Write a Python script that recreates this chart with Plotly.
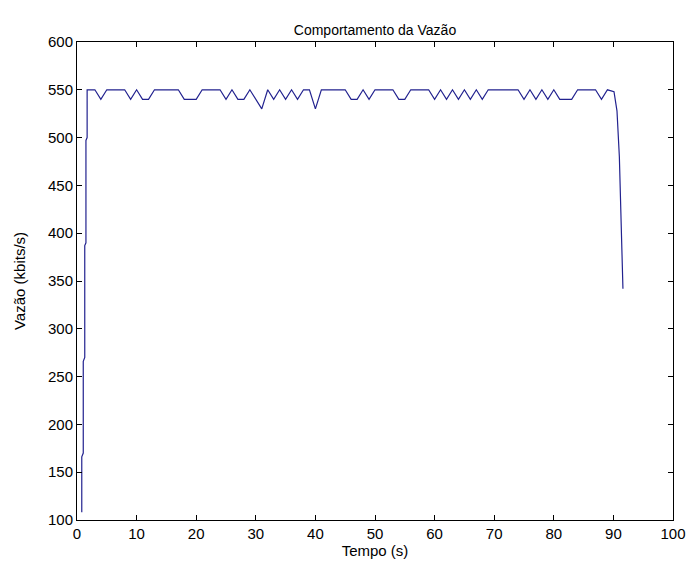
import plotly.graph_objects as go

# Time (s) and throughput (kbit/s)
rise_t = [0.8, 0.8, 1.05, 1.05, 1.3, 1.3, 1.5, 1.5, 1.7, 1.7]
rise_v = [108, 166, 170, 266, 270, 387, 390, 497, 500, 550]

steady_t = list(range(2, 90))
steady_v = [
    550, 550, 540, 550, 550, 550, 550, 540,            # 2-9
    550, 540, 540, 550, 550, 550, 550, 550, 540, 540,  # 10-19
    540, 550, 550, 550, 550, 540, 550, 540, 540, 550,  # 20-29
    540, 530, 550, 540, 550, 540, 550, 540, 550, 550,  # 30-39
    530, 550, 550, 550, 550, 550, 540, 540, 550, 540,  # 40-49
    550, 550, 550, 550, 540, 540, 550, 550, 550, 550,  # 50-59
    540, 550, 540, 550, 540, 550, 540, 550, 540, 550,  # 60-69
    550, 550, 550, 550, 550, 540, 550, 540, 550, 540,  # 70-79
    550, 540, 540, 540, 550, 550, 550, 550, 540, 550,  # 80-89
]

fall_t = [90.1, 90.6, 91.0, 91.6]
fall_v = [548, 528, 480, 342]

tempo = rise_t + steady_t + fall_t
vazao = rise_v + steady_v + fall_v

x_ticks = list(range(0, 101, 10))
y_ticks = list(range(100, 601, 50))

font_family = "Liberation Sans, Arial, sans-serif"

fig = go.Figure()
fig.add_trace(go.Scatter(
    x=tempo, y=vazao, mode="lines",
    line=dict(color="#22228f", width=1.2),
    showlegend=False,
))

axis_common = dict(
    showgrid=False, zeroline=False,
    showline=True, linecolor="black", linewidth=1, mirror="ticks",
    ticks="inside", ticklen=5, tickcolor="black", tickwidth=1,
    tickfont=dict(family=font_family, size=15, color="black"),
)

fig.update_layout(
    width=698, height=568,
    margin=dict(l=77, r=15, t=42, b=46),
    paper_bgcolor="white", plot_bgcolor="white",
    title=dict(text="Comportamento da Vazão", x=0.5, xref="paper", xanchor="center",
               y=1 - 30 / 568, yanchor="middle",
               font=dict(family=font_family, size=14, color="black")),
    xaxis=dict(range=[0, 100], tickvals=x_ticks, ticktext=[str(v) for v in x_ticks],
               title=dict(text="Tempo (s)", standoff=3,
                          font=dict(family=font_family, size=15, color="black")),
               **axis_common),
    yaxis=dict(range=[100, 600], tickvals=y_ticks, ticktext=[str(v) for v in y_ticks],
               title=dict(text="Vazão (kbits/s)", standoff=18,
                          font=dict(family=font_family, size=15, color="black")),
               **axis_common),
)

fig.write_html("out.html")
